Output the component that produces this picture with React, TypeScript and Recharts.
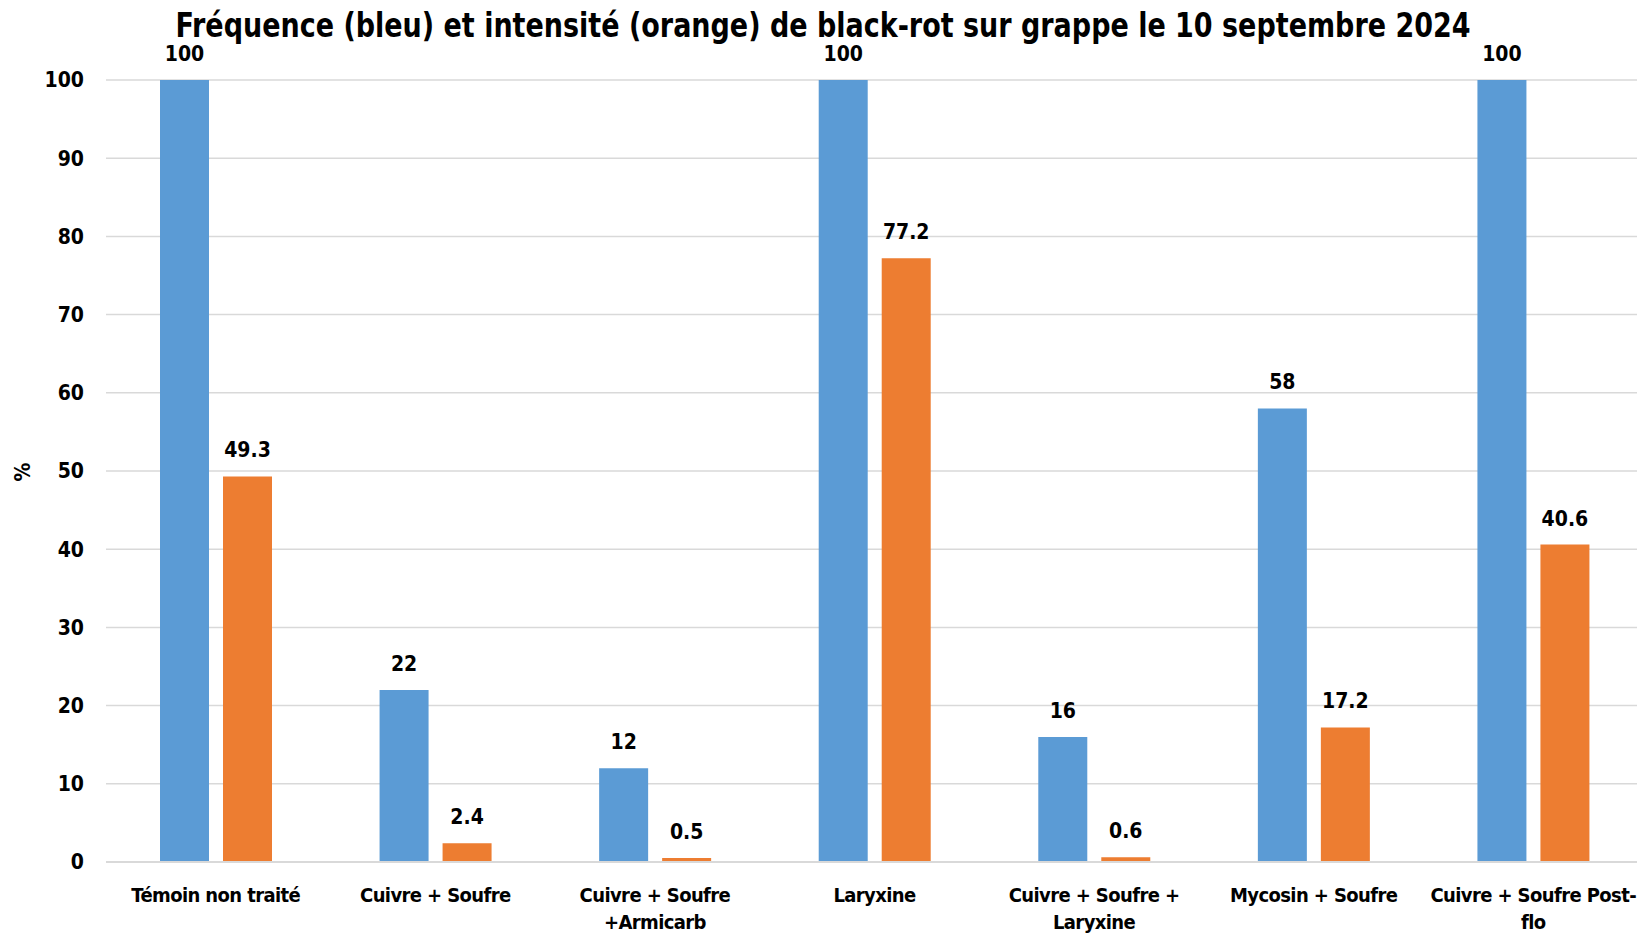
import { BarChart, Bar, XAxis, YAxis, CartesianGrid, LabelList } from "recharts";

const categories = [
  "Témoin non traité",
  "Cuivre + Soufre",
  "Cuivre + Soufre\n+Armicarb",
  "Laryxine",
  "Cuivre + Soufre +\nLaryxine",
  "Mycosin + Soufre",
  "Cuivre + Soufre Post-\nflo",
];
const frequence = [100, 22, 12, 100, 16, 58, 100];
const intensite = [49.3, 2.4, 0.5, 77.2, 0.6, 17.2, 40.6];
const yTicks = [0, 10, 20, 30, 40, 50, 60, 70, 80, 90, 100];

const title = "Fréquence (bleu) et intensité (orange) de black-rot sur grappe le 10 septembre 2024";
const FONT = "'Liberation Sans Narrow', 'DejaVu Sans Condensed', 'Open Sans', sans-serif";

const data = categories.map((name, i) => ({
  name,
  frequence: frequence[i],
  intensite: intensite[i],
}));

// multi-line category label under the axis
function CategoryTick(props: any) {
  const { x, y, payload } = props;
  const lines = String(payload.value).split("\n");
  return (
    <text
      x={x}
      y={y}
      textAnchor="middle"
      fill="#000"
      fontSize={20}
      fontWeight={700}
      fontFamily={FONT}
      letterSpacing={-0.6}
    >
      {lines.map((line, i) => (
        <tspan key={i} x={x} dy={i === 0 ? 38 : 27}>
          {line}
        </tspan>
      ))}
    </text>
  );
}

export default function App() {
  return (
    <div style={{ position: "absolute", left: 0, top: 0, width: 1637, height: 934, overflow: "hidden", background: "#fff" }}>
      <BarChart
        width={1643}
        height={934}
        data={data}
        margin={{ top: 80, right: 0, bottom: 0, left: 0 }}
        barSize={49}
        barGap={14}
      >
        <CartesianGrid vertical={false} stroke="#D9D9D9" strokeWidth={1.5} />
        <XAxis
          dataKey="name"
          height={72}
          axisLine={{ stroke: "#D9D9D9", strokeWidth: 2 }}
          tickLine={false}
          tickSize={0}
          interval={0}
          tick={<CategoryTick />}
        />
        <YAxis
          width={106}
          domain={[0, 100]}
          ticks={yTicks}
          axisLine={false}
          tickLine={false}
          tickSize={0}
          tickMargin={22}
          tick={{ fill: "#000", fontSize: 21, fontWeight: 700, fontFamily: FONT }}
        />
        <Bar dataKey="frequence" fill="#5B9BD5" isAnimationActive={false}>
          <LabelList
            dataKey="frequence"
            position="top"
            offset={19}
            fill="#000"
            fontSize={21}
            fontWeight={700}
            fontFamily={FONT}
          />
        </Bar>
        <Bar dataKey="intensite" fill="#ED7D31" isAnimationActive={false}>
          <LabelList
            dataKey="intensite"
            position="top"
            offset={19}
            fill="#000"
            fontSize={21}
            fontWeight={700}
            fontFamily={FONT}
          />
        </Bar>
      </BarChart>
      <svg width={1637} height={934} style={{ position: "absolute", left: 0, top: 0, pointerEvents: "none" }}>
        <text
          x={823}
          y={37}
          textAnchor="middle"
          fontSize={34}
          fontWeight={700}
          fontFamily={FONT}
          fill="#000"
          textLength={1295}
          lengthAdjust="spacingAndGlyphs"
        >
          {title}
        </text>
        <text
          x={30}
          y={472}
          textAnchor="middle"
          fontSize={21}
          fontWeight={700}
          fontFamily={FONT}
          fill="#000"
          transform="rotate(-90 30 472)"
        >
          %
        </text>
      </svg>
    </div>
  );
}
